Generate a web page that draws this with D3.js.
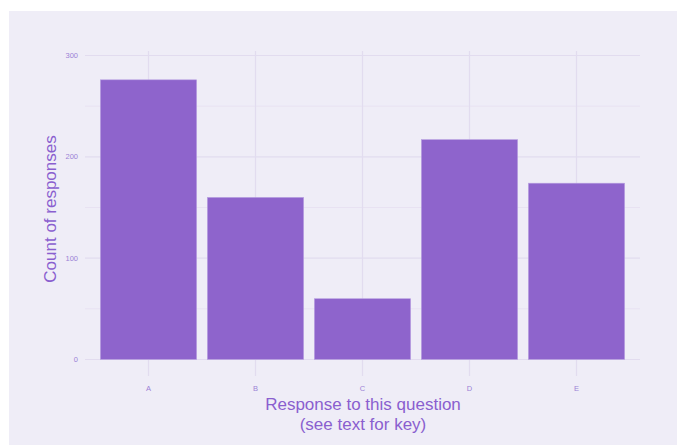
<!DOCTYPE html>
<html><head><meta charset="utf-8">
<script src="https://cdn.jsdelivr.net/npm/d3@7"></script>
<style>html,body{margin:0;padding:0;background:#fff;}svg{display:block;}</style>
</head><body><svg id="c" width="679" height="445"></svg>
<script>
const categories = ["A","B","C","D","E"];
const counts = [276, 160, 60, 217, 174];
const yTicks = [0, 100, 200, 300];
const yMinor = [50, 150, 250];

const svg = d3.select("#c");
const textCol = "#8a5fcf";
const tickCol = "#9b82d6";
svg.append("rect").attr("x",9).attr("y",11).attr("width",668).attr("height",434).attr("fill","#efedf7");

const x = d3.scaleBand().domain(categories).range([95,630]).paddingInner(0.1).paddingOuter(0.05);
const y = d3.scaleLinear().domain([0,300]).range([359.5,55.5]);

const g = svg.append("g");
// minor gridlines
g.selectAll("line.minor").data(yMinor).join("line")
  .attr("x1",85).attr("x2",640).attr("y1",d=>y(d)).attr("y2",d=>y(d))
  .attr("stroke","#e8e2f2").attr("stroke-width",1);
// major gridlines
g.selectAll("line.major").data(yTicks).join("line")
  .attr("x1",85).attr("x2",640).attr("y1",d=>y(d)).attr("y2",d=>y(d))
  .attr("stroke","#e2dcef").attr("stroke-width",1.2);
// vertical gridlines
g.selectAll("line.vg").data(categories).join("line")
  .attr("x1",d=>x(d)+x.bandwidth()/2).attr("x2",d=>x(d)+x.bandwidth()/2)
  .attr("y1",51).attr("y2",376)
  .attr("stroke","#e2dcef").attr("stroke-width",1.2);

// bars
g.selectAll("rect.bar").data(categories).join("rect")
  .attr("x",d=>x(d)).attr("width",x.bandwidth())
  .attr("y",(d,i)=>y(counts[i])).attr("height",(d,i)=>y(0)-y(counts[i]))
  .attr("fill","#8e64cc").attr("stroke","#b9a3e2").attr("stroke-width",0.6);

// y tick labels
g.selectAll("text.yt").data(yTicks).join("text")
  .attr("x",78).attr("y",d=>y(d)).attr("dy","0.35em").attr("text-anchor","end")
  .attr("font-family","Liberation Sans, Arial, sans-serif").attr("font-size",7.5)
  .attr("fill",tickCol).text(d=>d);
// x tick labels
g.selectAll("text.xt").data(categories).join("text")
  .attr("x",d=>x(d)+x.bandwidth()/2).attr("y",391).attr("text-anchor","middle")
  .attr("font-family","Liberation Sans, Arial, sans-serif").attr("font-size",7.5)
  .attr("fill",tickCol).text(d=>d);

// axis titles
const xt = svg.append("text").attr("text-anchor","middle")
  .attr("font-family","Liberation Sans, Arial, sans-serif").attr("font-size",17).attr("fill",textCol);
xt.append("tspan").attr("x",363).attr("y",410).text("Response to this question");
xt.append("tspan").attr("x",363).attr("y",430).text("(see text for key)");

svg.append("text").attr("text-anchor","middle")
  .attr("transform","translate(56,209) rotate(-90)")
  .attr("font-family","Liberation Sans, Arial, sans-serif").attr("font-size",17).attr("fill",textCol)
  .text("Count of responses");
</script></body></html>
